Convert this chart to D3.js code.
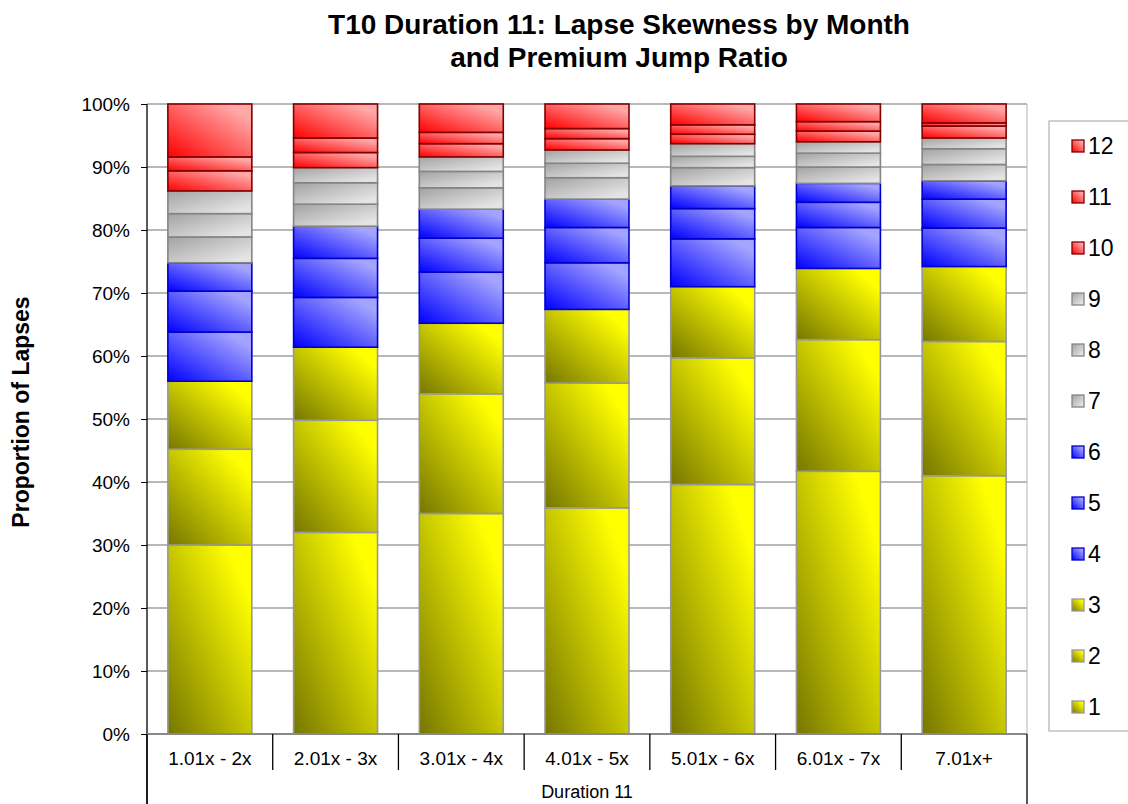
<!DOCTYPE html>
<html>
<head>
<meta charset="utf-8">
<script src="https://cdn.jsdelivr.net/npm/d3@7"></script>
<style>
  body { margin: 0; background: #fff; }
  svg { display: block; font-family: "Liberation Sans", Arial, sans-serif; }
</style>
</head>
<body>
<div id="chart"></div>
<script>
// premium jump ratio buckets
var categories = ["1.01x - 2x", "2.01x - 3x", "3.01x - 4x", "4.01x - 5x", "5.01x - 6x", "6.01x - 7x", "7.01x+"];
var months = ["1", "2", "3", "4", "5", "6", "7", "8", "9", "10", "11", "12"];
var groupLabel = "Duration 11";

// share of lapses (%) by month, one value per bucket
var m1  = [30.0, 32.0, 35.0, 35.9, 39.6, 41.7, 41.0];
var m2  = [15.2, 17.8, 19.0, 19.8, 20.1, 20.9, 21.3];
var m3  = [10.8, 11.6, 11.2, 11.7, 11.3, 11.3, 11.9];
var m4  = [7.8, 7.9, 8.1, 7.4, 7.6, 6.5, 6.1];
var m5  = [6.5, 6.2, 5.4, 5.6, 4.8, 4.0, 4.6];
var m6  = [4.5, 5.1, 4.6, 4.5, 3.6, 3.0, 2.9];
var m7  = [4.1, 3.5, 3.4, 3.4, 2.9, 2.6, 2.6];
var m8  = [3.7, 3.4, 2.6, 2.3, 1.8, 2.2, 2.5];
var m9  = [3.6, 2.4, 2.3, 2.1, 2.0, 1.8, 1.7];
var m10 = [3.2, 2.4, 2.1, 1.8, 1.5, 1.7, 1.9];
var m11 = [2.2, 2.3, 1.8, 1.6, 1.5, 1.5, 0.5];
var m12 = [8.4, 5.4, 4.5, 3.9, 3.3, 2.8, 3.0];

var yTicks = [0, 10, 20, 30, 40, 50, 60, 70, 80, 90, 100];

var series = [m1, m2, m3, m4, m5, m6, m7, m8, m9, m10, m11, m12];

var width = 1128, height = 804;
var margin = {left: 147, right: 1027, top: 104, bottom: 734};

var svg = d3.select("#chart").append("svg")
  .attr("width", width)
  .attr("height", height);

// quarter colour groups: light/dark gradient stops and border
var palette = [
  {id: "g-yel", c0: "#767600", c1: "#ffff00", stroke: "#989898", x1: 0, y1: 1, x2: 1, y2: 0},
  {id: "g-blu", c0: "#0000ff", c1: "#a4a4ff", stroke: "#0000c8", x1: 0, y1: 1, x2: 1, y2: 0},
  {id: "g-gry", c0: "#a2a2a2", c1: "#e4e4e4", stroke: "#858585", x1: 0, y1: 0, x2: 1, y2: 1},
  {id: "g-red", c0: "#ff0000", c1: "#ffa8a8", stroke: "#800000", x1: 0, y1: 1, x2: 1, y2: 0}
];

var defs = svg.append("defs");
palette.forEach(function(p) {
  var g = defs.append("linearGradient").attr("id", p.id)
    .attr("x1", p.x1).attr("y1", p.y1).attr("x2", p.x2).attr("y2", p.y2);
  g.append("stop").attr("offset", "0%").attr("stop-color", p.c0);
  g.append("stop").attr("offset", "85%").attr("stop-color", p.c1);
});

function pal(key) { return palette[Math.floor((+key - 1) / 3)]; }

var rows = categories.map(function(c, i) {
  var r = {cat: c};
  months.forEach(function(m, j) { r[m] = series[j][i]; });
  return r;
});

var stack = d3.stack().keys(months)(rows);

var x = d3.scaleBand()
  .domain(categories)
  .range([margin.left, margin.right])
  .paddingInner(0.332)
  .paddingOuter(0.166);

var y = d3.scaleLinear()
  .domain([0, 100])
  .range([margin.bottom, margin.top]);

// gridlines
svg.append("g").selectAll("line")
  .data(yTicks.slice(1))
  .enter().append("line")
  .attr("x1", margin.left).attr("x2", margin.right)
  .attr("y1", function(d) { return y(d); })
  .attr("y2", function(d) { return y(d); })
  .attr("stroke", "#a0a0a0")
  .attr("stroke-width", 1.5);

svg.append("line")
  .attr("x1", margin.right).attr("x2", margin.right)
  .attr("y1", margin.top).attr("y2", margin.bottom)
  .attr("stroke", "#b4b4b4")
  .attr("stroke-width", 1);

// bars
svg.append("g").selectAll("g")
  .data(stack)
  .enter().append("g")
  .each(function(s) {
    var p = pal(s.key);
    d3.select(this).selectAll("rect")
      .data(s)
      .enter().append("rect")
      .attr("x", function(d) { return x(d.data.cat); })
      .attr("width", x.bandwidth())
      .attr("y", function(d) { return y(d[1]); })
      .attr("height", function(d) { return y(d[0]) - y(d[1]); })
      .attr("fill", "url(#" + p.id + ")")
      .attr("stroke", p.stroke)
      .attr("stroke-width", 1.6);
  });

// y axis
var yAxis = svg.append("g")
  .attr("transform", "translate(" + margin.left + ",0)")
  .call(d3.axisLeft(y).tickValues(yTicks).tickSize(6).tickPadding(11)
    .tickFormat(function(d) { return d + "%"; }));
yAxis.select(".domain").remove();
yAxis.selectAll(".tick line").attr("stroke", "#000");
yAxis.selectAll("text")
  .attr("font-size", 19)
  .attr("font-family", "Liberation Sans, Arial, sans-serif")
  .attr("fill", "#000");

svg.append("line")
  .attr("x1", margin.left).attr("x2", margin.left)
  .attr("y1", margin.top).attr("y2", height)
  .attr("stroke", "#000").attr("stroke-width", 1.3);

// x axis (two levels)
svg.append("line")
  .attr("x1", margin.left).attr("x2", margin.right)
  .attr("y1", margin.bottom).attr("y2", margin.bottom)
  .attr("stroke", "#888").attr("stroke-width", 2);

var step = x.step();
var edges = d3.range(categories.length + 1).map(function(i) { return margin.left + i * step; });

svg.append("g").selectAll("line")
  .data(edges)
  .enter().append("line")
  .attr("x1", function(d) { return d; })
  .attr("x2", function(d) { return d; })
  .attr("y1", margin.bottom)
  .attr("y2", function(d, i) { return (i === 0 || i === categories.length) ? height : 770; })
  .attr("stroke", "#000").attr("stroke-width", 1.3);

svg.append("g").selectAll("text")
  .data(categories)
  .enter().append("text")
  .attr("x", function(d) { return x(d) + x.bandwidth() / 2; })
  .attr("y", 765)
  .attr("text-anchor", "middle")
  .attr("font-size", 19)
  .text(function(d) { return d; });

svg.append("text")
  .attr("x", (margin.left + margin.right) / 2)
  .attr("y", 798)
  .attr("text-anchor", "middle")
  .attr("font-size", 18)
  .text(groupLabel);

// titles
var title = svg.append("text")
  .attr("text-anchor", "middle")
  .attr("font-size", 28)
  .attr("font-weight", "bold");
title.append("tspan").attr("x", 619).attr("y", 34).text("T10 Duration 11: Lapse Skewness by Month");
title.append("tspan").attr("x", 619).attr("y", 67).text("and Premium Jump Ratio");

svg.append("text")
  .attr("transform", "translate(29,412) rotate(-90)")
  .attr("text-anchor", "middle")
  .attr("font-size", 23)
  .attr("font-weight", "bold")
  .text("Proportion of Lapses");

// legend, month 12 on top
var legend = svg.append("g");
legend.append("rect")
  .attr("x", 1049).attr("y", 121)
  .attr("width", 120).attr("height", 610)
  .attr("fill", "#fff")
  .attr("stroke", "#a0a0a0");

var ly = d3.scalePoint()
  .domain(months.slice().reverse())
  .range([146, 707]);

var item = legend.selectAll("g.item")
  .data(months.slice().reverse())
  .enter().append("g")
  .attr("class", "item")
  .attr("transform", function(d) { return "translate(1072," + ly(d) + ")"; });

item.append("rect")
  .attr("x", 0).attr("y", -6)
  .attr("width", 12).attr("height", 12)
  .attr("fill", function(d) { return "url(#" + pal(d).id + ")"; })
  .attr("stroke", function(d) { return pal(d).stroke; })
  .attr("stroke-width", 1.3);

item.append("text")
  .attr("x", 16).attr("y", 8)
  .attr("font-size", 23)
  .text(function(d) { return d; });
</script>
</body>
</html>
